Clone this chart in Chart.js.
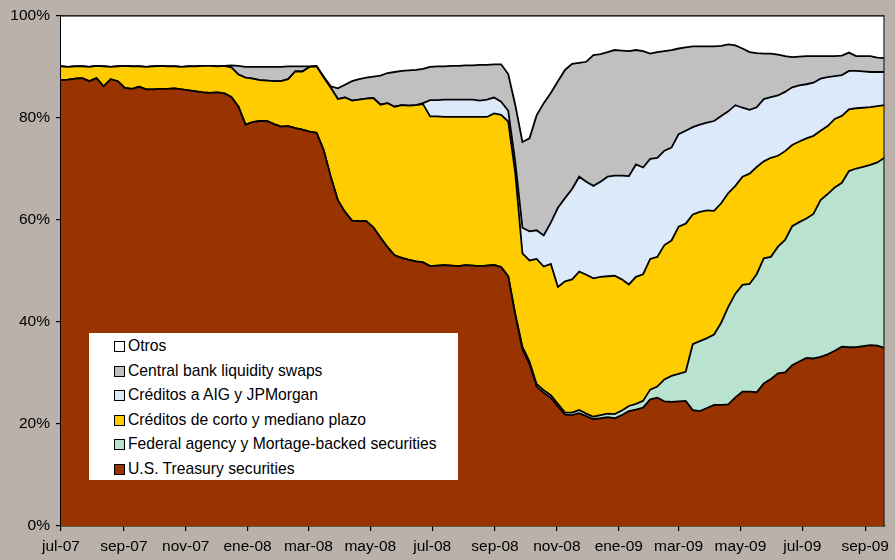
<!DOCTYPE html>
<html>
<head>
<meta charset="utf-8">
<script src="https://cdn.jsdelivr.net/npm/chart.js@4.4.0/dist/chart.umd.min.js"></script>
<style>
html,body{margin:0;padding:0;background:#bab2aa;}
#wrap{position:relative;width:895px;height:560px;}
canvas{display:block;}
#legend{position:absolute;left:89px;top:333px;width:369px;height:147px;background:#fff;font-family:"Liberation Sans",Arial,sans-serif;font-size:15.7px;color:#000;}
.item{position:absolute;left:25px;height:20px;line-height:20px;white-space:nowrap;}
.sw{position:absolute;left:0;top:5px;width:9px;height:9px;border:1px solid #000;}
.t{position:absolute;left:14px;top:0;}
</style>
</head>
<body>
<div id="wrap">
<canvas id="c" width="895" height="560"></canvas>
<div id="legend"></div>
</div>
<script>
// Weekly observations, x = days since 1 Jul 2007
const weekOffsets = Array.from({length: 117}, (_, i) => i * 7);

// x-axis tick positions (days since 1 Jul 2007) and labels
const tickDays = [0, 62, 123, 184, 244, 305, 366, 428, 489, 550, 609, 670, 731, 793];
const tickLabels = ['jul-07','sep-07','nov-07','ene-08','mar-08','may-08','jul-08','sep-08','nov-08','ene-09','mar-09','may-09','jul-09','sep-09'];

// Shares (%) of each component
const treasury = [
87.3,87.4,87.6,87.7,87.1,87.7,86.1,87.5,87.1,85.8,85.6,86.0,85.5,85.5,85.6,85.6,85.7,85.5,85.3,85.1,84.9,84.8,84.9,84.7,
84.0,82.1,78.6,79.1,79.3,79.3,78.7,78.2,78.3,77.9,77.6,77.2,77.0,73.6,68.4,63.8,61.5,59.8,59.7,59.7,58.5,56.5,54.6,53.0,52.5,52.1,51.8,51.6,
50.9,51.0,51.1,51.0,50.9,51.1,51.0,50.9,51.0,51.1,50.7,48.9,
41.2,34.6,31.7,27.3,26.1,25.1,23.4,21.8,21.7,22.1,21.5,20.9,21.1,21.3,21.1,21.7,22.5,22.8,23.2,24.8,25.1,24.4,24.3,24.4,24.5,22.7,22.5,23.1,23.7,23.7,23.8,25.2,26.3,26.3,26.2,27.9,28.8,29.9,30.1,31.5,32.2,32.9,32.8,33.1,33.6,34.3,35.1,35.0,35.0,35.2,35.4,35.3,34.9];

const federal = [
0,0,0,0,0,0,0,0,0,0,0,0,0,0,0,0,0,0,0,0,0,0,0,0,
0,0,0,0,0,0,0,0,0,0,0,0,0,0,0,0,0,0,0,0,0,0,0,0,0,0,0,0,
0,0,0,0,0,0,0,0,0,0,0,0,
0.3,0.5,0.5,0.5,0.5,0.5,0.5,0.4,0.5,0.6,0.5,0.5,0.6,0.7,0.8,0.9,1.0,1.1,1.3,1.9,2.2,4.3,5.1,5.4,5.7,12.9,13.7,13.7,13.8,16.1,19.1,20.3,20.9,21.1,23.1,24.5,23.9,24.8,25.9,27.2,27.3,27.3,28.3,30.7,31.4,32.0,32.1,34.5,35.0,35.1,35.3,35.9,37.2];

const cortoPlazo = [
2.7,2.5,2.4,2.3,2.8,2.4,3.9,2.4,2.9,4.3,4.4,4.0,4.4,4.5,4.5,4.4,4.3,4.4,4.7,4.9,5.2,5.3,5.1,5.4,
5.8,6.3,9.2,8.5,8.0,7.9,8.4,8.9,9.2,11.1,11.4,12.7,13.0,14.2,17.4,19.8,22.4,23.5,23.8,24.0,25.3,26.0,28.2,29.1,29.9,30.2,30.6,31.0,
29.3,29.2,29.0,29.1,29.2,29.0,29.1,29.2,29.1,29.7,29.8,30.3,
27.5,18.3,19.8,24.5,24.2,25.7,22.9,25.7,26.1,27.1,27.2,27.1,27.1,26.9,27.1,25.7,23.8,24.9,24.8,25.6,25.4,26.3,26.5,28.8,29.0,25.4,25.3,25.0,24.2,23.4,22.3,21.1,21.2,21.6,21.0,19.0,19.4,17.8,17.4,15.9,15.8,15.7,15.3,13.6,13.3,13.4,13.1,12.1,11.8,11.6,11.3,11.0,10.3];

const aigJPM = [
0,0,0,0,0,0,0,0,0,0,0,0,0,0,0,0,0,0,0,0,0,0,0,0,
0,0,0,0,0,0,0,0,0,0,0,0,0,0,0,0,0,0,0,0,0,0,0,0,0,0,0,0.2,
3.2,3.2,3.4,3.4,3.4,3.4,3.4,3.2,3.4,3.1,2.6,2.1,
2.2,5.0,5.7,5.6,6.1,8.1,15.5,16.3,17.7,18.6,18.2,18.1,18.6,19.5,19.6,20.3,21.2,22.0,20.9,19.6,19.4,18.5,18.2,18.1,18.2,17.1,17.1,17.2,17.6,17.1,16.0,15.8,13.5,12.5,11.7,12.2,11.9,11.8,11.6,11.3,11.0,10.6,10.4,10.2,9.6,8.4,8.0,7.5,7.3,7.1,6.9,6.7,6.5];

const swaps = [
0,0,0,0,0,0,0,0,0,0,0,0,0,0,0,0,0,0,0,0,0,0,0,0,
0.4,1.7,2.1,2.3,2.6,2.7,2.8,2.8,2.5,1.0,1.0,0.1,0.1,0.2,0.3,2.1,2.5,3.8,4.0,4.1,4.2,5.7,5.9,6.8,6.7,6.9,6.9,6.7,
6.5,6.6,6.5,6.6,6.6,6.7,6.7,7.0,6.8,6.5,7.3,7.2,
11.2,16.8,18.2,22.5,25.9,25.4,24.8,25.1,24.5,22.3,23.5,25.6,25.0,24.4,24.6,24.5,24.5,22.4,22.8,20.6,20.7,19.5,19.1,16.8,16.3,15.8,15.3,14.9,14.6,13.7,13.1,11.7,11.6,11.3,10.6,8.9,8.5,8.0,7.0,5.9,5.6,5.5,5.2,4.4,4.1,3.9,3.8,3.6,2.9,3.0,3.1,2.8,2.7];

const otros = [
10.0,10.1,10.0,10.0,10.1,9.9,10.0,10.1,10.0,9.9,10.0,10.0,10.1,10.0,9.9,10.0,10.0,10.1,10.0,10.0,9.9,9.9,10.0,9.9,
9.8,9.9,10.1,10.1,10.1,10.1,10.1,10.1,10.0,10.0,10.0,10.0,9.9,12.0,13.9,14.3,13.6,12.9,12.5,12.2,12.0,11.8,11.3,11.1,10.9,10.8,10.7,10.5,
10.1,10.0,10.0,9.9,9.9,9.8,9.8,9.7,9.7,9.6,9.6,11.5,
17.6,24.8,24.1,19.6,17.2,15.2,12.9,10.7,9.5,9.3,9.1,7.8,7.6,7.2,6.8,6.9,7.0,6.8,7.0,7.5,7.2,7.0,6.8,6.5,6.3,6.1,6.1,6.1,6.1,6.0,5.7,5.9,6.5,7.2,7.4,7.5,7.5,7.7,8.0,8.2,8.1,8.0,8.0,8.0,8.0,8.0,7.9,7.3,8.0,8.0,8.0,8.3,8.4];

const seriesDefs = [
  {label: 'U.S. Treasury securities', data: treasury, color: '#993300'},
  {label: 'Federal agency y Mortage-backed securities', data: federal, color: '#b9e2cf'},
  {label: 'Créditos de corto y mediano plazo', data: cortoPlazo, color: '#ffcc00'},
  {label: 'Créditos a AIG y JPMorgan', data: aigJPM, color: '#dce9f8'},
  {label: 'Central bank liquidity swaps', data: swaps, color: '#c0c0c0'},
  {label: 'Otros', data: otros, color: '#ffffff'}
];

const FONT = '"Liberation Sans", Arial, sans-serif';

const datasets = seriesDefs.map((s, k) => ({
  label: s.label,
  data: weekOffsets.map((x, i) => ({x: x, y: s.data[i]})),
  backgroundColor: s.color,
  borderColor: '#000',
  borderWidth: 1.8,
  pointRadius: 0,
  tension: 0,
  fill: k === 0 ? 'origin' : '-1'
}));

const frame = {
  id: 'frame',
  afterDraw(chart) {
    const a = chart.chartArea, ctx = chart.ctx;
    ctx.save();
    ctx.strokeStyle = '#222';
    ctx.lineWidth = 1.2;
    ctx.beginPath();
    ctx.moveTo(a.left, a.top + 0.5);
    ctx.lineTo(a.right - 0.5, a.top + 0.5);
    ctx.lineTo(a.right - 0.5, a.bottom);
    ctx.stroke();
    ctx.restore();
  }
};

new Chart(document.getElementById('c'), {
  type: 'line',
  data: {datasets: datasets},
  options: {
    responsive: false,
    animation: false,
    events: [],
    layout: {autoPadding: false, padding: {top: 15, right: 5, left: 0, bottom: 0}},
    plugins: {legend: {display: false}, tooltip: {enabled: false}},
    scales: {
      x: {
        type: 'linear', min: 0, max: 812, z: 1,
        afterBuildTicks: s => { s.ticks = tickDays.map(v => ({value: v})); },
        afterFit: s => { s.height = 34; },
        ticks: {
          autoSkip: false, maxRotation: 0, minRotation: 0, padding: 6,
          color: '#000', font: {family: FONT, size: 15.5},
          callback: (v, i) => tickLabels[i]
        },
        grid: {drawOnChartArea: false, drawTicks: true, tickLength: 5, color: '#000', lineWidth: 1.2},
        border: {display: true, color: '#000', width: 1.5}
      },
      y: {
        stacked: true, min: 0, max: 100, z: 1,
        afterFit: s => { s.width = 61; },
        ticks: {
          stepSize: 20, padding: 6, color: '#000',
          font: {family: FONT, size: 15.5},
          callback: v => v + '%'
        },
        grid: {drawOnChartArea: false, drawTicks: true, tickLength: 5, color: '#000', lineWidth: 1.2},
        border: {display: true, color: '#000', width: 1.5}
      }
    }
  },
  plugins: [frame]
});

// Legend (reverse order, like the reference)
const legend = document.getElementById('legend');
const rowCenters = [13, 37.5, 62, 86.5, 111, 135.5];
seriesDefs.slice().reverse().forEach((s, r) => {
  const d = document.createElement('div');
  d.className = 'item';
  d.style.top = (rowCenters[r] - 10) + 'px';
  d.innerHTML = '<span class="sw" style="background:' + s.color + '"></span><span class="t"></span>';
  d.querySelector('.t').textContent = s.label;
  legend.appendChild(d);
});
</script>
</body>
</html>
